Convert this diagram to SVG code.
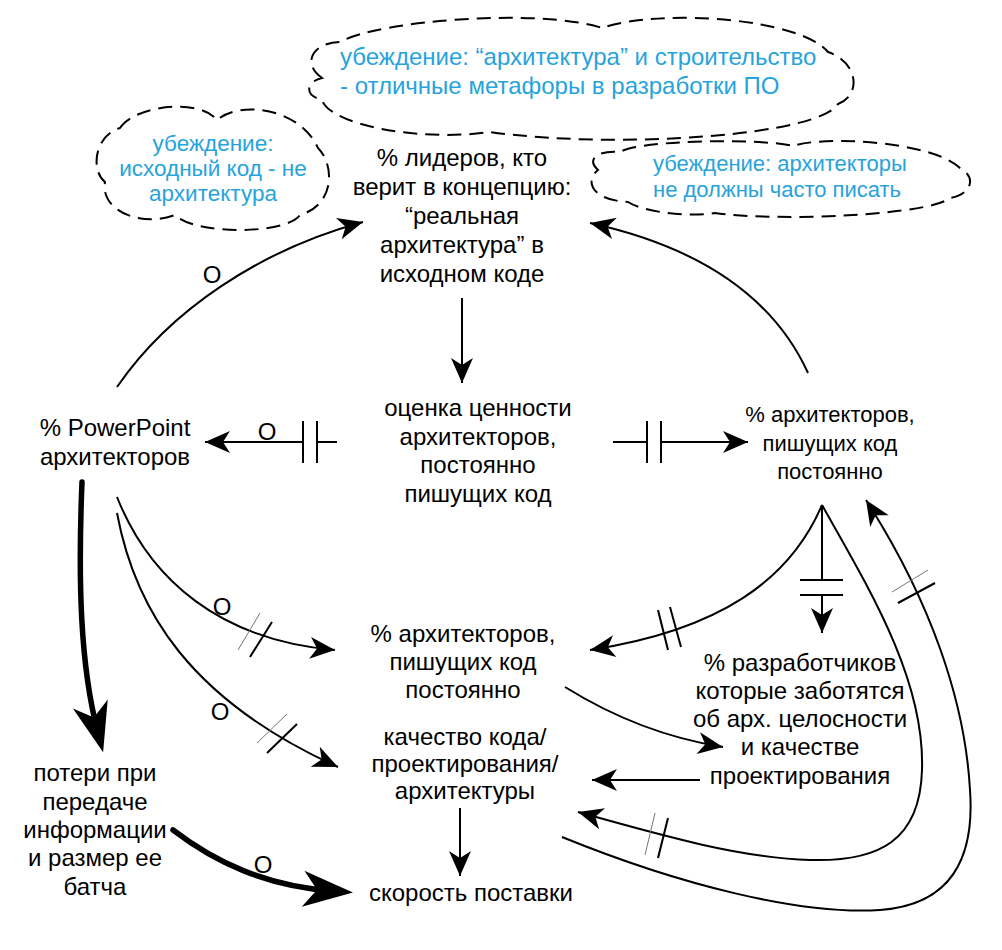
<svg xmlns="http://www.w3.org/2000/svg" width="1002" height="950" viewBox="0 0 1002 950">
<style>
.t{font-family:"Liberation Sans",Arial,sans-serif;font-size:24px;fill:#000;text-anchor:middle}
.b{font-family:"Liberation Sans",Arial,sans-serif;fill:#27a3dc}
.cl{fill:none;stroke:#000;stroke-width:2;stroke-dasharray:14 8}
.c{fill:none;stroke:#000;stroke-width:2}
.k{fill:none;stroke:#000;stroke-width:5.5;stroke-linecap:round}
.d{stroke:#000;stroke-width:2}
.dt{stroke:#777;stroke-width:1}
.o{font-family:"Liberation Sans",Arial,sans-serif;font-size:24px;fill:#000;text-anchor:middle}
</style>
<defs>
<marker id="a" markerUnits="userSpaceOnUse" markerWidth="30" markerHeight="30" refX="0" refY="0" orient="auto" overflow="visible"><path d="M0,0 L-25,-11 L-18,0 L-25,11 Z" fill="#000"/></marker>
<marker id="ak" markerUnits="userSpaceOnUse" markerWidth="60" markerHeight="60" refX="-20" refY="0" orient="auto" overflow="visible"><path d="M0,0 L-50,-18 L-36,0 L-50,18 Z" fill="#000"/></marker>
</defs>
<rect width="1002" height="950" fill="#fff"/>

<g id="cloud-metaphor">
<path class="cl" d="M322,78 C300,62 315,42 340,42 C380,20 540,8 602,28 C660,8 800,18 828,52 C858,62 862,95 838,104 C820,135 620,150 490,132 C420,142 330,125 322,100 C305,96 305,82 322,78 Z"/>
<text class="b" font-size="24"><tspan x="340" y="65">убеждение: “архитектура” и строительство</tspan><tspan x="340" y="94">- отличные метафоры в разработки ПО</tspan></text>
</g>
<g id="cloud-source">
<path class="cl" d="M120,128 C135,105 200,98 217,120 C240,100 300,108 318,148 C335,165 335,205 300,215 C285,235 195,235 175,215 C140,228 100,210 105,182 C90,170 95,135 120,128 Z"/>
<text class="b" font-size="22.5" text-anchor="middle"><tspan x="213" y="151">убеждение:</tspan><tspan x="213" y="176">исходный код - не</tspan><tspan x="213" y="201">архитектура</tspan></text>
</g>
<g id="cloud-write">
<path class="cl" d="M598,170 C585,158 600,150 620,152 C640,140 760,138 793,146 C820,136 930,140 960,168 C978,178 970,195 950,198 C930,215 780,222 715,213 C680,218 640,210 628,202 C590,200 585,180 598,170 Z"/>
<text class="b" font-size="22"><tspan x="653" y="171">убеждение: архитекторы</tspan><tspan x="653" y="197">не должны часто писать</tspan></text>
</g>

<g id="n-leaders"><text class="t"><tspan x="462" y="166">% лидеров, кто</tspan><tspan x="462" y="195">верит в концепцию:</tspan><tspan x="462" y="224">“реальная</tspan><tspan x="462" y="253">архитектура” в</tspan><tspan x="462" y="282">исходном коде</tspan></text></g>
<g id="n-value"><text class="t"><tspan x="478" y="416">оценка ценности</tspan><tspan x="478" y="445">архитекторов,</tspan><tspan x="478" y="473">постоянно</tspan><tspan x="478" y="502">пишущих код</tspan></text></g>
<g id="n-ppt"><text class="t"><tspan x="115" y="436">% PowerPoint</tspan><tspan x="115" y="465">архитекторов</tspan></text></g>
<g id="n-arch-right"><text class="t" font-size="22" style="font-size:22px"><tspan x="830" y="422">% архитекторов,</tspan><tspan x="830" y="451">пишущих код</tspan><tspan x="830" y="479">постоянно</tspan></text></g>
<g id="n-arch-mid"><text class="t"><tspan x="463" y="642">% архитекторов,</tspan><tspan x="463" y="670">пишущих код</tspan><tspan x="463" y="698">постоянно</tspan></text></g>
<g id="n-devs"><text class="t"><tspan x="800" y="671">% разработчиков</tspan><tspan x="800" y="699">которые заботятся</tspan><tspan x="800" y="727">об арх. целосности</tspan><tspan x="800" y="755">и качестве</tspan><tspan x="800" y="784">проектирования</tspan></text></g>
<g id="n-quality"><text class="t"><tspan x="465" y="745">качество кода/</tspan><tspan x="465" y="772">проектирования/</tspan><tspan x="465" y="799">архитектуры</tspan></text></g>
<g id="n-speed"><text class="t"><tspan x="471" y="901">скорость поставки</tspan></text></g>
<g id="n-loss"><text class="t"><tspan x="95" y="781">потери при</tspan><tspan x="95" y="810">передаче</tspan><tspan x="95" y="838">информации</tspan><tspan x="95" y="866">и размер ее</tspan><tspan x="95" y="895">батча</tspan></text></g>

<g id="connectors">
<path class="c" d="M462,298 L462,383" marker-end="url(#a)"/>
<path class="c" d="M337,442 L317,442"/>
<path class="c" d="M303,442 L205,442" marker-end="url(#a)"/>
<line class="d" x1="303" y1="421" x2="303" y2="463"/><line class="d" x1="317" y1="421" x2="317" y2="463"/>
<text class="o" x="267" y="440">O</text>
<path class="c" d="M613,442 L647,442"/>
<path class="c" d="M661,442 L748,442" marker-end="url(#a)"/>
<line class="d" x1="647" y1="421" x2="647" y2="463"/><line class="d" x1="661" y1="421" x2="661" y2="463"/>
<path class="c" d="M117,387 C170,310 260,250 363,222" marker-end="url(#a)"/>
<text class="o" x="212" y="283">O</text>
<path class="c" d="M808,373 C770,290 690,245 590,223" marker-end="url(#a)"/>
<path class="k" d="M82,482 C78,580 80,665 98,733" marker-end="url(#ak)"/>
<path class="k" d="M173,830 C215,862 265,886 333,891" marker-end="url(#ak)"/>
<text class="o" x="263" y="873">O</text>
<path class="c" d="M117,497 C150,580 220,640 335,650" marker-end="url(#a)"/>
<line class="dt" x1="238" y1="650" x2="260" y2="613"/><line class="d" x1="250" y1="657" x2="272" y2="622"/>
<text class="o" x="222" y="615">O</text>
<path class="c" d="M117,513 C135,610 190,700 338,767" marker-end="url(#a)"/>
<line class="dt" x1="257" y1="743" x2="287" y2="714"/><line class="d" x1="267" y1="753" x2="297" y2="724"/>
<text class="o" x="220" y="720">O</text>
<path class="c" d="M822,505 C790,580 720,630 590,650" marker-end="url(#a)"/>
<line class="d" x1="658" y1="610" x2="668" y2="650"/><line class="d" x1="670" y1="607" x2="681" y2="647"/>
<path class="c" d="M822,505 L822,580"/>
<path class="c" d="M822,595 L822,633" marker-end="url(#a)"/>
<line class="d" x1="800" y1="580" x2="843" y2="580"/><line class="d" x1="800" y1="595" x2="843" y2="595"/>
<path class="c" d="M565,687 C610,715 660,737 723,747" marker-end="url(#a)"/>
<path class="c" d="M700,780 L592,780" marker-end="url(#a)"/>
<path class="c" d="M822,505 C870,590 925,680 922,770 C920,840 880,862 810,860 C740,858 660,835 578,812" marker-end="url(#a)"/>
<line class="dt" x1="655" y1="813" x2="645" y2="855"/><line class="d" x1="668" y1="818" x2="658" y2="858"/>
<path class="c" d="M562,837 C680,885 800,915 880,910 C950,905 975,860 970,790 C965,700 930,600 866,500" marker-end="url(#a)"/>
<line class="dt" x1="892" y1="592" x2="928" y2="570"/><line class="d" x1="898" y1="603" x2="935" y2="583"/>
<path class="c" d="M460,808 L460,876" marker-end="url(#a)"/>
</g>
</svg>
